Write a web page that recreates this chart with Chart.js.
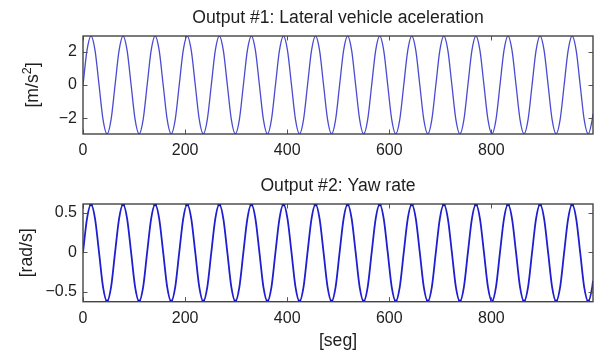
<!DOCTYPE html>
<html><head><meta charset="utf-8">
<script src="https://cdn.jsdelivr.net/npm/chart.js@4.4.1/dist/chart.umd.min.js"></script>
<style>
html,body{margin:0;padding:0;background:#fff;width:600px;height:351px;overflow:hidden}
canvas{position:absolute;left:0;display:block}
</style></head><body>
<canvas id="c1" width="600" height="175" style="top:0"></canvas>
<canvas id="c2" width="600" height="176" style="top:175px"></canvas>
<script>
// time samples [seg] (read at peaks, zero crossings and mid-slopes)
const timeSeg = [0,7.85,15.71,23.56,31.42,39.27,47.12,54.98,62.83,70.69,78.54,86.39,94.25,102.10,109.96,117.81,
125.66,133.52,141.37,149.23,157.08,164.93,172.79,180.64,188.50,196.35,204.20,212.06,219.91,227.77,235.62,243.47,
251.33,259.18,267.04,274.89,282.74,290.60,298.45,306.31,314.16,322.01,329.87,337.72,345.58,353.43,361.28,369.14,
376.99,384.85,392.70,400.55,408.41,416.26,424.12,431.97,439.82,447.68,455.53,463.39,471.24,479.09,486.95,494.80,
502.65,510.51,518.36,526.22,534.07,541.92,549.78,557.63,565.49,573.34,581.19,589.05,596.90,604.76,612.61,620.46,
628.32,636.17,644.03,651.88,659.73,667.59,675.44,683.30,691.15,699.00,706.86,714.71,722.57,730.42,738.27,746.13,
753.98,761.84,769.69,777.54,785.40,793.25,801.11,808.96,816.81,824.67,832.52,840.38,848.23,856.08,863.94,871.79,
879.65,887.50,895.35,903.21,911.06,918.92,926.77,934.62,942.48,950.33,958.19,966.04,973.89,981.75,989.60,997.46,999];

// Output #1: lateral vehicle acceleration [m/s^2]
const lateralAccel = [
0,2.07,2.93,2.07,0,-2.07,-2.93,-2.07, 0,2.07,2.93,2.07,0,-2.07,-2.93,-2.07,
0,2.07,2.93,2.07,0,-2.07,-2.93,-2.07, 0,2.07,2.93,2.07,0,-2.07,-2.93,-2.07,
0,2.07,2.93,2.07,0,-2.07,-2.93,-2.07, 0,2.07,2.93,2.07,0,-2.07,-2.93,-2.07,
0,2.07,2.93,2.07,0,-2.07,-2.93,-2.07, 0,2.07,2.93,2.07,0,-2.07,-2.93,-2.07,
0,2.07,2.93,2.07,0,-2.07,-2.93,-2.07, 0,2.07,2.93,2.07,0,-2.07,-2.93,-2.07,
0,2.07,2.93,2.07,0,-2.07,-2.93,-2.07, 0,2.07,2.93,2.07,0,-2.07,-2.93,-2.07,
0,2.07,2.93,2.07,0,-2.07,-2.93,-2.07, 0,2.07,2.93,2.07,0,-2.07,-2.93,-2.07,
0,2.07,2.93,2.07,0,-2.07,-2.93,-2.07, 0,2.07,2.93,2.07,0,-2.07,-2.93,-2.07,
-1.73];

// Output #2: yaw rate [rad/s]
const yawRate = [
0,0.43,0.61,0.43,0,-0.44,-0.62,-0.44, 0,0.43,0.61,0.43,0,-0.44,-0.62,-0.44,
0,0.43,0.61,0.43,0,-0.44,-0.62,-0.44, 0,0.43,0.61,0.43,0,-0.44,-0.62,-0.44,
0,0.43,0.61,0.43,0,-0.44,-0.62,-0.44, 0,0.43,0.61,0.43,0,-0.44,-0.62,-0.44,
0,0.43,0.61,0.43,0,-0.44,-0.62,-0.44, 0,0.43,0.61,0.43,0,-0.44,-0.62,-0.44,
0,0.43,0.61,0.43,0,-0.44,-0.62,-0.44, 0,0.43,0.61,0.43,0,-0.44,-0.62,-0.44,
0,0.43,0.61,0.43,0,-0.44,-0.62,-0.44, 0,0.43,0.61,0.43,0,-0.44,-0.62,-0.44,
0,0.43,0.61,0.43,0,-0.44,-0.62,-0.44, 0,0.43,0.61,0.43,0,-0.44,-0.62,-0.44,
0,0.43,0.61,0.43,0,-0.44,-0.62,-0.44, 0,0.43,0.61,0.43,0,-0.44,-0.62,-0.44,
-0.36];

const xTicks = [0,200,400,600,800];
const accelTicks = [-2,0,2];
const yawTicks = [-0.5,0,0.5];
const xRange = [0,999];
const accelRange = [-2.93,2.93];
const yawRange = [-0.625,0.615];

const FONT = "'Liberation Sans', Arial, Helvetica, sans-serif";
Chart.defaults.font.family = FONT;
Chart.defaults.color = '#1e1e1e';

const fmt = v => String(v).replace('-', '\u2212');

function framePlugin(o){
  return {
    id: 'matlabFrame',
    afterDatasetsDraw(chart){
      const ctx = chart.ctx, a = chart.chartArea, xs = chart.scales.x, ys = chart.scales.y;
      ctx.save();
      // inward tick marks on all four sides
      ctx.strokeStyle = '#555'; ctx.lineWidth = 1;
      ctx.beginPath();
      const tl = 4.5;
      xs.ticks.forEach(t => {
        const p = Math.round(xs.getPixelForValue(t.value)) + 0.5;
        ctx.moveTo(p, a.bottom); ctx.lineTo(p, a.bottom - tl);
        ctx.moveTo(p, a.top); ctx.lineTo(p, a.top + tl);
      });
      ys.ticks.forEach(t => {
        const p = Math.round(ys.getPixelForValue(t.value)) + 0.5;
        ctx.moveTo(a.left, p); ctx.lineTo(a.left + tl, p);
        ctx.moveTo(a.right, p); ctx.lineTo(a.right - tl, p);
      });
      ctx.stroke();
      // axes box
      ctx.strokeStyle = '#444'; ctx.lineWidth = 1.4;
      ctx.strokeRect(a.left, a.top, a.right - a.left, a.bottom - a.top);
      // title
      ctx.fillStyle = '#1e1e1e';
      ctx.font = '17.6px ' + FONT;
      ctx.textAlign = 'center'; ctx.textBaseline = 'alphabetic';
      ctx.fillText(o.title, (a.left + a.right) / 2, o.titleY);
      // x label
      if (o.xlabel) ctx.fillText(o.xlabel, (a.left + a.right) / 2, o.xlabelY);
      // y label (rotated), with optional superscript
      ctx.save();
      ctx.translate(o.ylabelX, (a.top + a.bottom) / 2);
      ctx.rotate(-Math.PI / 2);
      ctx.textAlign = 'left';
      const parts = o.ylabel;
      let W = 0;
      parts.forEach(p => { ctx.font = (p.sup ? '12.5px ' : '17.6px ') + FONT; p.w = ctx.measureText(p.t).width; W += p.w; });
      let cx = -W / 2;
      parts.forEach(p => {
        ctx.font = (p.sup ? '12.5px ' : '17.6px ') + FONT;
        ctx.fillText(p.t, cx, p.sup ? -7 : 0);
        cx += p.w;
      });
      ctx.restore();
      ctx.restore();
    }
  };
}

function makeChart(id, data, yr, yt, pad, axisW, axisH, o, ds){
  return new Chart(document.getElementById(id), {
    type: 'line',
    data: { datasets: [Object.assign({
      data: timeSeg.map((t, i) => ({x: t, y: data[i]})),
      cubicInterpolationMode: 'monotone',
      fill: false
    }, ds)] },
    options: {
      responsive: false, animation: false, devicePixelRatio: 1,
      layout: { padding: pad },
      plugins: { legend: {display: false}, tooltip: {enabled: false}, title: {display: false} },
      scales: {
        x: {
          type: 'linear', min: xRange[0], max: xRange[1],
          grid: {display: false, drawTicks: false}, border: {display: false},
          afterFit: s => { s.height = axisH; },
          afterBuildTicks: s => { s.ticks = xTicks.map(v => ({value: v})); },
          ticks: { autoSkip: false, maxRotation: 0, padding: 7, font: {size: 16}, callback: fmt }
        },
        y: {
          type: 'linear', min: yr[0], max: yr[1],
          grid: {display: false, drawTicks: false}, border: {display: false},
          afterFit: s => { s.width = axisW; },
          afterBuildTicks: s => { s.ticks = yt.map(v => ({value: v})); },
          ticks: { padding: 6, font: {size: 16}, callback: fmt }
        }
      }
    },
    plugins: [framePlugin(o)]
  });
}

makeChart('c1', lateralAccel, accelRange, accelTicks,
  {left: 0, right: 7, top: 36, bottom: 0}, 83, 41,
  {title: 'Output #1: Lateral vehicle aceleration', titleY: 22.6,
   ylabel: [{t: '[m/s'}, {t: '2', sup: true}, {t: ']'}], ylabelX: 38},
  {borderColor: '#4a4ad2', borderWidth: 1.3, pointRadius: 0});

makeChart('c2', yawRate, yawRange, yawTicks,
  {left: 0, right: 7, top: 29, bottom: 0}, 83, 49.3,
  {title: 'Output #2: Yaw rate', titleY: 16,
   xlabel: '[seg]', xlabelY: 170.5,
   ylabel: [{t: '[rad/s]'}], ylabelX: 32},
  {borderColor: '#1f1fd0', borderWidth: 1.8,
   pointRadius: c => (c.raw && Math.abs(c.raw.y) >= 0.6 ? 1.9 : 0),
   pointBackgroundColor: '#1010c0', pointBorderWidth: 0});
</script>
</body></html>
